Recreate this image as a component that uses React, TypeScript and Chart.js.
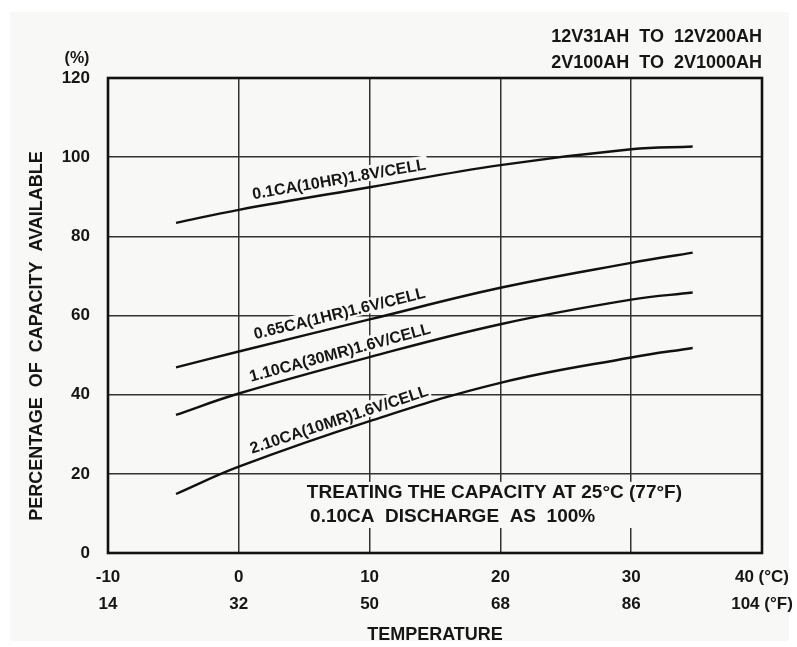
import { useEffect, useRef } from "react";
import { Chart, registerables } from "chart.js";

Chart.register(...registerables);

// ---- data ----
const temperaturesC = [-4.8, 0, 10, 20, 30, 34.7];
const cap01CA = [83.4, 86.7, 92.4, 98.0, 102.0, 102.7];
const cap065CA = [46.9, 50.9, 59.0, 67.0, 73.3, 75.9];
const cap110CA = [34.9, 40.3, 49.5, 57.8, 64.0, 65.8];
const cap210CA = [14.9, 21.8, 33.3, 43.0, 49.4, 51.8];

const seriesNames = [
  "0.1CA(10HR)1.8V/CELL",
  "0.65CA(1HR)1.6V/CELL",
  "1.10CA(30MR)1.6V/CELL",
  "2.10CA(10MR)1.6V/CELL",
];

const celsiusTickValues = [-10, 0, 10, 20, 30, 40];
const celsiusTicks = ["-10", "0", "10", "20", "30", "40 (°C)"];
const fahrenheitTicks = ["14", "32", "50", "68", "86", "104 (°F)"];

const titleLines = ["12V31AH  TO  12V200AH", "2V100AH  TO  2V1000AH"];
const noteLines = ["TREATING THE CAPACITY AT 25°C (77°F)", "0.10CA  DISCHARGE  AS  100%"];
const yAxisTitle = "PERCENTAGE  OF  CAPACITY  AVAILABLE";
const xAxisTitle = "TEMPERATURE";
const yUnit = "(%)";

const FONT = '"Liberation Sans", Arial, Helvetica, sans-serif';
const INK = "#161616";

// label placement along each curve (°C where the label starts / ends)
const labelStartC = [1.2, 1.4, 1.1, 1.2];
const labelEndC = [14.5, 14.5, 14.5, 14.5];

function interp(xs: number[], ys: number[], x: number) {
  for (let i = 0; i < xs.length - 1; i++) {
    if (x >= xs[i] && x <= xs[i + 1]) {
      const t = (x - xs[i]) / (xs[i + 1] - xs[i]);
      return ys[i] + t * (ys[i + 1] - ys[i]);
    }
  }
  return x < xs[0] ? ys[0] : ys[ys.length - 1];
}

const allSeries = [cap01CA, cap065CA, cap110CA, cap210CA];

function labelGeometry(chart: any, i: number) {
  const xs = chart.scales.x;
  const ys = chart.scales.y;
  const s = allSeries[i];
  const x0 = xs.getPixelForValue(labelStartC[i]);
  const y0 = ys.getPixelForValue(interp(temperaturesC, s, labelStartC[i]));
  const x1 = xs.getPixelForValue(labelEndC[i]);
  const y1 = ys.getPixelForValue(interp(temperaturesC, s, labelEndC[i]));
  return { x0, y0, angle: Math.atan2(y1 - y0, x1 - x0) };
}

const LABEL_FONT = `bold 16px ${FONT}`;
const LABEL_OFFSET = 8;
const BG = "#f8f8f7";

const decorations = {
  id: "decorations",
  beforeDraw(chart: any) {
    const { ctx, width, height } = chart;
    ctx.save();
    ctx.fillStyle = "#ffffff";
    ctx.fillRect(0, 0, width, height);
    ctx.fillStyle = BG;
    ctx.fillRect(10, 12, width - 18, height - 18);
    ctx.restore();
  },
  beforeDatasetsDraw(chart: any) {
    const { ctx, chartArea } = chart;
    const xs = chart.scales.x;
    const ys = chart.scales.y;
    ctx.save();
    // backing boxes behind curve labels
    ctx.font = LABEL_FONT;
    seriesNames.forEach((name, i) => {
      const g = labelGeometry(chart, i);
      const w = ctx.measureText(name).width;
      ctx.save();
      ctx.translate(g.x0, g.y0);
      ctx.rotate(g.angle);
      ctx.fillStyle = BG;
      ctx.fillRect(-2, -LABEL_OFFSET - 14, w + 4, 16);
      ctx.restore();
    });
    // note box
    ctx.font = `bold 19px ${FONT}`;
    const nx = xs.getPixelForValue(5.2);
    const ny1 = ys.getPixelForValue(15.2);
    const ny2 = ys.getPixelForValue(9.1);
    const nw = Math.max(...noteLines.map((l) => ctx.measureText(l).width));
    ctx.fillStyle = BG;
    ctx.fillRect(nx - 6, ny1 - 11, nw + 12, ny2 - ny1 + 22);
    // frame
    ctx.strokeStyle = "#111";
    ctx.lineWidth = 2.6;
    ctx.strokeRect(chartArea.left, chartArea.top, chartArea.right - chartArea.left, chartArea.bottom - chartArea.top);
    ctx.restore();
  },
  afterDatasetsDraw(chart: any) {
    const { ctx, chartArea } = chart;
    const xs = chart.scales.x;
    const ys = chart.scales.y;
    ctx.save();
    ctx.fillStyle = INK;
    ctx.font = LABEL_FONT;
    ctx.textAlign = "left";
    ctx.textBaseline = "alphabetic";
    seriesNames.forEach((name, i) => {
      const g = labelGeometry(chart, i);
      ctx.save();
      ctx.translate(g.x0, g.y0);
      ctx.rotate(g.angle);
      ctx.fillText(name, 0, -LABEL_OFFSET);
      ctx.restore();
    });
    // note
    ctx.font = `bold 19px ${FONT}`;
    ctx.textBaseline = "middle";
    ctx.fillText(noteLines[0], xs.getPixelForValue(5.2), ys.getPixelForValue(15.2));
    ctx.fillText(noteLines[1], xs.getPixelForValue(5.45), ys.getPixelForValue(9.1));

    // top-right titles
    ctx.textAlign = "right";
    ctx.font = `bold 18px ${FONT}`;
    ctx.fillText(titleLines[0], chartArea.right, 37);
    ctx.fillText(titleLines[1], chartArea.right, 63);

    // (%) unit
    ctx.textAlign = "center";
    ctx.font = `bold 16px ${FONT}`;
    ctx.fillText(yUnit, 77, 59);

    // y axis title
    ctx.save();
    ctx.translate(37, 336);
    ctx.rotate(-Math.PI / 2);
    ctx.font = `bold 18px ${FONT}`;
    ctx.textAlign = "center";
    ctx.textBaseline = "middle";
    ctx.fillText(yAxisTitle, 0, 0);
    ctx.restore();
    ctx.restore();
  },
};

export default function App() {
  const canvasRef = useRef<HTMLCanvasElement | null>(null);

  useEffect(() => {
    const canvas = canvasRef.current;
    if (!canvas) return;
    const mk = (values: number[]) => ({
      data: temperaturesC.map((t, i) => ({ x: t, y: values[i] })),
      borderColor: "#111",
      borderWidth: 2.4,
      pointRadius: 0,
      fill: false,
      tension: 0.4,
    });
    const chart = new Chart(canvas, {
      type: "line",
      data: {
        datasets: [mk(cap01CA), mk(cap065CA), mk(cap110CA), mk(cap210CA)],
      },
      options: {
        animation: false,
        responsive: false,
        devicePixelRatio: 1,
        layout: { padding: { top: 78, right: 35, bottom: 0, left: 0 } },
        plugins: { legend: { display: false }, tooltip: { enabled: false } },
        scales: {
          x: {
            type: "linear",
            min: -10,
            max: 40,
            afterFit: (s: any) => {
              s.height = 94;
              s.paddingLeft = 0;
              s.paddingRight = 0;
            },
            ticks: {
              stepSize: 10,
              color: INK,
              padding: 11,
              font: { family: FONT, size: 17, weight: "bold", lineHeight: 1.6 },
              callback: (v: any) => {
                const i = celsiusTickValues.indexOf(Number(v));
                return i < 0 ? "" : [celsiusTicks[i], fahrenheitTicks[i]];
              },
            },
            grid: { color: "#333", lineWidth: 1.5, drawTicks: false },
            border: { display: false },
            title: {
              display: true,
              text: xAxisTitle,
              color: INK,
              font: { family: FONT, size: 18, weight: "bold", lineHeight: 1.2 },
              padding: { top: 0, bottom: 1 },
            },
          },
          y: {
            min: 0,
            max: 120,
            afterFit: (s: any) => {
              s.width = 108;
              s.paddingTop = 0;
              s.paddingBottom = 0;
            },
            ticks: {
              stepSize: 20,
              color: INK,
              padding: 18,
              font: { family: FONT, size: 17, weight: "bold" },
            },
            grid: { color: "#333", lineWidth: 1.5, drawTicks: false },
            border: { display: false },
          },
        },
      },
      plugins: [decorations],
    });
    return () => chart.destroy();
  }, []);

  return (
    <div style={{ position: "absolute", left: 0, top: 0, width: 797, height: 647 }}>
      <canvas ref={canvasRef} width={797} height={647} style={{ display: "block" }} />
    </div>
  );
}
